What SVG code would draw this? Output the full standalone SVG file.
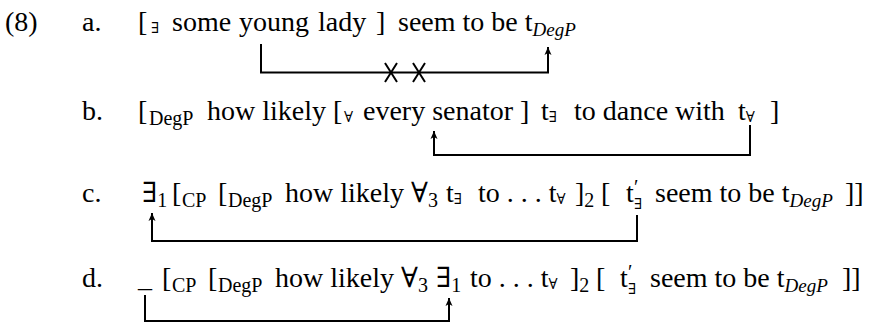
<svg xmlns="http://www.w3.org/2000/svg" width="869" height="325" viewBox="0 0 869 325">
<style>
text{font-family:"Liberation Serif","DejaVu Serif",serif;font-size:28px;fill:#000}
.s{font-size:20px}
.q{font-size:15px}
.si{font-size:19px;font-style:italic}
.ln{fill:none;stroke:#000;stroke-width:2}
</style>
<defs>
<marker id="ah" markerUnits="userSpaceOnUse" markerWidth="10" markerHeight="10" refX="8" refY="5" orient="auto">
<path d="M0,1.5 L8,5 L0,8.5 L2,5 z" fill="#000"/>
</marker>
</defs>
<rect width="869" height="325" fill="#fff"/>
<g id="label"><text x="5" y="31">(8)</text></g>
<g id="ex-a">
<text x="82" y="31">a.</text>
<text y="31"><tspan x="138">[</tspan><tspan class="q" x="151" y="33">∃</tspan><tspan x="172" y="31">some</tspan><tspan x="239">young</tspan><tspan x="318">lady</tspan><tspan x="376">]</tspan><tspan x="398">seem to be t</tspan><tspan class="si" y="36">DegP</tspan></text>
</g>
<g id="ex-b">
<text x="82" y="120">b.</text>
<text y="120"><tspan x="138">[</tspan><tspan class="s" x="149" y="125">DegP</tspan><tspan x="207" y="120">how likely [</tspan><tspan class="q" x="344" y="122">∀</tspan><tspan x="363" y="120">every senator ]</tspan><tspan x="541">t</tspan><tspan class="q" y="122">∃</tspan><tspan x="574" y="120">to dance with</tspan><tspan x="738">t</tspan><tspan class="q" y="122">∀</tspan><tspan x="770" y="120">]</tspan></text>
</g>
<g id="ex-c">
<text x="82" y="202">c.</text>
<text y="202"><tspan x="142">∃</tspan><tspan class="s" y="207">1</tspan><tspan x="172" y="202">[</tspan><tspan class="s" x="182" y="207">CP</tspan><tspan x="218" y="202">[</tspan><tspan class="s" x="228" y="207">DegP</tspan><tspan x="285" y="202">how likely ∀</tspan><tspan class="s" y="207">3</tspan><tspan x="446" y="202">t</tspan><tspan class="q" y="204">∃</tspan><tspan x="478" y="202">to . . . t</tspan><tspan class="q" y="204">∀</tspan><tspan x="575" y="202">]</tspan><tspan class="s" y="207">2</tspan><tspan x="601" y="202">[</tspan><tspan x="626">t</tspan><tspan class="s" x="634" y="194">′</tspan><tspan class="q" x="634" y="209">∃</tspan><tspan x="655" y="202">seem to be t</tspan><tspan class="si" y="207">DegP</tspan><tspan x="845" y="202">]]</tspan></text>
</g>
<g id="ex-d">
<text x="82" y="287">d.</text>
<text y="287"><tspan x="138">_</tspan><tspan x="162">[</tspan><tspan class="s" x="172" y="292">CP</tspan><tspan x="208" y="287">[</tspan><tspan class="s" x="218" y="292">DegP</tspan><tspan x="275" y="287">how likely ∀</tspan><tspan class="s" y="292">3</tspan><tspan x="436" y="287">∃</tspan><tspan class="s" y="292">1</tspan><tspan x="470" y="287">to . . . t</tspan><tspan class="q" y="289">∀</tspan><tspan x="570" y="287">]</tspan><tspan class="s" y="292">2</tspan><tspan x="596" y="287">[</tspan><tspan x="620">t</tspan><tspan class="s" x="628" y="279">′</tspan><tspan class="q" x="628" y="294">∃</tspan><tspan x="650" y="287">seem to be t</tspan><tspan class="si" y="292">DegP</tspan><tspan x="842" y="287">]]</tspan></text>
</g>
<g id="connectors">
<path class="ln" d="M261,44 V72.5 H548 V47" marker-end="url(#ah)"/>
<path class="ln" d="M385,63 L397,82 M397,63 L385,82 M413,63 L425,82 M425,63 L413,82"/>
<path class="ln" d="M750,125 V155 H434 V131" marker-end="url(#ah)"/>
<path class="ln" d="M637,215 V241 H152 V213" marker-end="url(#ah)"/>
<path class="ln" d="M145,295 V321 H449 V298" marker-end="url(#ah)"/>
</g>
</svg>
